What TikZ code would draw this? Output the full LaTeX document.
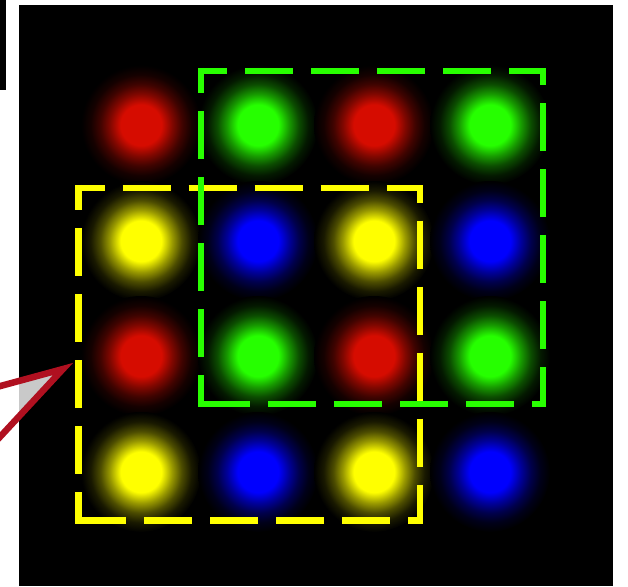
\documentclass[tikz,border=0pt]{standalone}
\usepackage{tikz}
\usepackage{xcolor}

\definecolor{pointRouge}{RGB}{214,12,0}
\definecolor{pointVert}{RGB}{38,255,0}
\definecolor{pointBleu}{RGB}{0,0,255}
\definecolor{pointJaune}{RGB}{255,255,0}
\definecolor{traitVert}{RGB}{40,255,0}
\definecolor{traitRouge}{RGB}{176,16,32}

% halo lumineux autour de chaque point
\colorlet{couleurHalo}{red}
\pgfdeclareradialshading[couleurHalo]{halo}{\pgfpoint{0bp}{0bp}}{%
	color(0bp)=(couleurHalo); color(8.5bp)=(couleurHalo);
	color(13bp)=(couleurHalo!60!black); color(17bp)=(couleurHalo!30!black);
	color(21bp)=(couleurHalo!10!black); color(25bp)=(black); color(50bp)=(black)}

\begin{document}
\begin{tikzpicture}[
			x=1pt, y=-1pt,
			% Styles des points et des cadres
			point/.style={circle, inner sep=0pt, minimum size=120pt, /utils/exec={\colorlet{couleurHalo}{#1}}, shading=halo},
			cadre/.style={line width=6.5pt, dash pattern=on 48pt off 18pt, dash phase=22pt},
			cadreGauche/.style={line width=6.5pt, dash pattern=on 48pt off 18pt, dash phase=22.75pt},
			fleche/.style={draw=traitRouge, line width=6.5pt, fill=white, fill opacity=0.79},
			]

			\useasboundingbox (0,0) rectangle (628,586);
			\clip (0,0) rectangle (628,586);
			\fill[white] (0,0) rectangle (628,586);
			\fill[black] (0,0) rectangle (6,90);
			\fill[black] (19,5) rectangle (613,586);

			% grille de points 4x4
			\foreach \r/\y/\ca/\cb in {1/125/pointRouge/pointVert, 2/241/pointJaune/pointBleu, 3/356/pointRouge/pointVert, 4/472/pointJaune/pointBleu} {
				\node[point=\ca] (p\r1) at (141,\y) {};
				\node[point=\cb] (p\r2) at (258,\y) {};
				\node[point=\ca] (p\r3) at (374,\y) {};
				\node[point=\cb] (p\r4) at (490,\y) {};
			}

			% cadres en pointilles
			\draw[cadre, pointJaune] (78.5,188) -- (420,188) -- (420,520.5) -- (78.5,520.5);
			\draw[cadreGauche, pointJaune] (78.5,184.75) -- (78.5,523.75);
			\draw[cadre, traitVert] (201,71) -- (543,71) -- (543,404) -- (201,404);
			\draw[cadreGauche, traitVert] (201,67.75) -- (201,407.25);

			% pointe de la bulle
			\coordinate (bulleHaut) at (-40,397);
			\coordinate (bullePointe) at (63,369);
			\coordinate (bulleBas) at (-40,480);
			\draw[fleche] (bulleHaut) -- (bullePointe) -- (bulleBas);

		\end{tikzpicture}
\end{document}
